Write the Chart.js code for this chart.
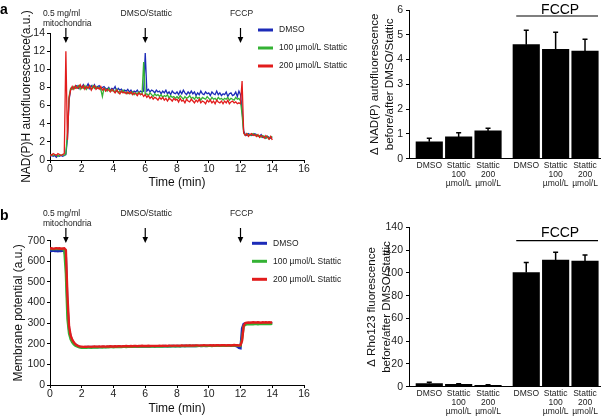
<!DOCTYPE html>
<html>
<head>
<meta charset="utf-8">
<script src="https://cdn.jsdelivr.net/npm/chart.js@4.4.0/dist/chart.umd.min.js"></script>
<style>
body{margin:0;background:#fff;}
#wrap{position:relative;width:605px;height:420px;overflow:hidden;background:#fff;}
canvas{position:absolute;}
</style>
</head>
<body>
<div id="wrap">
<canvas id="lineA" width="350" height="200" style="left:0;top:0"></canvas>
<canvas id="barA" width="265" height="200" style="left:340px;top:0"></canvas>
<canvas id="lineB" width="350" height="220" style="left:0;top:200px"></canvas>
<canvas id="barB" width="265" height="220" style="left:340px;top:200px"></canvas>
</div>
<script>
// time axis of the traces (min)
const times = [
  0,0.1,0.2,0.3,0.4,0.5,0.6,0.7,0.8,0.9,
  1,1.1,1.2,1.3,1.4,1.5,1.6,1.7,1.8,1.9,
  2,2.1,2.2,2.3,2.4,2.5,2.6,2.7,2.8,2.9,
  3,3.1,3.2,3.3,3.4,3.5,3.6,3.7,3.8,3.9,
  4,4.1,4.2,4.3,4.4,4.5,4.6,4.7,4.8,4.9,
  5,5.1,5.2,5.3,5.4,5.5,5.6,5.7,5.8,5.9,
  6,6.1,6.2,6.3,6.4,6.5,6.6,6.7,6.8,6.9,
  7,7.1,7.2,7.3,7.4,7.5,7.6,7.7,7.8,7.9,
  8,8.1,8.2,8.3,8.4,8.5,8.6,8.7,8.8,8.9,
  9,9.1,9.2,9.3,9.4,9.5,9.6,9.7,9.8,9.9,
  10,10.1,10.2,10.3,10.4,10.5,10.6,10.7,10.8,10.9,
  11,11.1,11.2,11.3,11.4,11.5,11.6,11.7,11.8,11.9,
  12,12.1,12.2,12.3,12.4,12.5,12.6,12.7,12.8,12.9,
  13,13.1,13.2,13.3,13.4,13.5,13.6,13.7,13.8,13.9,
  14
];

const seriesNames = ['DMSO', '100 µmol/L Stattic', '200 µmol/L Stattic'];

// NAD(P)H autofluorescence (a.u.)
const nadhDmso = [
  0.4,0.5,0.4,0.5,0.3,0.5,0.4,0.5,0.4,0.5,
  0.6,2.4,6.6,7.8,8.0,7.9,8.1,8.2,7.9,8.1,
  8.0,8.3,7.9,8.1,8.4,7.9,8.2,8.0,8.3,7.9,
  8.1,8.2,7.8,8.0,8.1,7.9,7.8,8.0,7.7,7.9,
  7.8,8.1,7.6,7.9,7.7,7.8,7.5,7.7,7.6,7.8,
  7.5,7.7,7.4,7.6,7.5,7.7,7.4,7.6,7.5,7.6,
  11.8,7.6,7.8,7.5,7.7,7.6,7.4,7.7,7.5,7.6,
  7.3,7.6,7.4,7.7,7.3,7.5,7.2,7.6,7.4,7.3,
  7.5,7.2,7.6,7.3,7.7,7.4,7.2,7.5,7.3,7.6,
  7.3,7.5,7.1,7.4,7.2,7.6,7.3,7.2,7.5,7.3,
  7.4,7.1,7.5,7.3,7.2,7.6,7.2,7.4,7.1,7.3,
  7.2,7.5,7.0,7.3,7.4,7.1,7.2,7.5,7.0,7.6,
  7.2,5.5,3.2,2.8,2.7,2.9,2.8,2.7,2.8,2.9,
  2.8,2.7,2.6,2.8,2.5,2.6,2.4,2.6,2.5,2.4,
  2.5
];
const nadhStattic100 = [
  0.5,0.6,0.5,0.6,0.5,0.4,0.6,0.5,0.6,0.5,
  0.7,3.0,7.0,7.9,7.8,8.1,7.9,8.0,8.2,7.8,
  8.1,7.9,8.2,7.8,8.1,8.0,7.8,8.2,7.9,8.1,
  7.9,8.0,7.8,7.0,7.9,7.8,7.6,7.9,7.7,7.6,
  7.7,7.5,7.8,7.4,7.6,7.5,7.7,7.4,7.5,7.3,
  7.4,7.3,7.5,7.2,7.4,7.3,7.5,7.2,7.3,10.8,
  7.2,7.3,7.1,7.4,7.2,7.0,7.3,7.1,7.2,7.0,
  7.2,6.9,7.1,7.0,7.2,6.8,7.1,6.9,7.0,6.8,
  7.0,6.8,7.1,6.9,6.7,7.0,6.8,6.9,7.1,6.8,
  6.9,6.7,7.0,6.8,6.9,6.6,6.9,6.8,6.7,7.0,
  6.8,6.6,6.9,6.7,6.8,6.6,6.9,6.7,6.8,6.6,
  6.8,6.7,6.9,6.6,6.8,6.7,6.6,6.9,6.7,6.8,
  6.5,5.0,3.0,2.7,2.9,2.8,2.7,2.8,2.9,2.7,
  2.8,2.6,2.7,2.5,2.7,2.6,2.4,2.6,2.3,2.5,
  2.6
];
const nadhStattic200 = [
  0.6,0.5,0.7,0.6,0.5,0.7,0.6,0.5,0.6,0.7,
  12.0,2.2,6.8,7.7,8.1,7.8,8.2,7.9,8.0,8.3,
  7.9,8.2,7.8,8.1,7.9,8.2,7.7,8.0,8.2,7.8,
  8.0,7.8,8.1,7.7,7.9,7.6,7.8,7.7,7.5,7.8,
  7.6,7.4,7.7,7.5,7.3,7.6,7.4,7.5,7.3,7.5,
  7.3,7.5,7.2,7.4,7.3,7.1,7.4,7.2,7.3,7.0,
  7.2,6.9,7.1,6.8,7.0,6.7,6.9,6.8,6.6,6.9,
  6.7,6.9,6.6,6.8,6.5,6.8,6.7,6.5,6.8,6.6,
  6.7,6.4,6.8,6.5,6.6,6.3,6.7,6.5,6.4,6.7,
  6.5,6.3,6.6,6.4,6.7,6.3,6.5,6.4,6.2,6.6,
  6.4,6.6,6.3,6.5,6.2,6.6,6.4,6.3,6.5,6.2,
  6.5,6.3,6.6,6.2,6.4,6.5,6.3,6.4,6.2,6.3,
  6.2,8.7,3.0,2.7,2.9,2.6,2.8,2.9,2.7,2.8,
  2.6,2.8,2.5,2.7,2.6,2.4,2.7,2.5,2.3,2.6,
  2.2
];

// Membrane potential (a.u.)
const rhoDmso = [
  651,650,652,650,651,649,651,650,652,650,
  620,380,270,235,215,203,196,191,187,185,
  184,183,183,184,184,183,184,184,185,184,
  184,185,184,185,185,184,185,185,186,185,
  185,186,185,186,186,185,186,186,187,186,
  186,187,186,187,187,186,187,187,188,187,
  187,187,188,187,188,188,187,188,188,188,
  188,188,189,188,188,189,188,189,189,188,
  189,189,188,189,189,190,189,189,190,189,
  189,190,189,190,190,189,190,190,189,190,
  190,190,191,190,190,191,190,191,190,191,
  191,190,191,191,190,191,191,190,186,180,
  178,275,296,299,300,300,301,300,300,301,
  300,301,300,300,301,300,301,300,300,301,
  300
];
const rhoStattic100 = [
  659,660,658,660,659,661,659,660,658,655,
  540,320,250,222,207,197,191,187,184,182,
  181,181,182,181,182,182,181,182,182,183,
  182,183,183,182,183,183,184,183,184,184,
  183,184,184,185,184,184,185,185,184,185,
  185,185,186,185,186,186,185,186,186,187,
  186,186,187,187,186,187,187,188,187,187,
  188,187,188,188,187,188,188,189,188,188,
  188,189,188,189,189,188,189,189,190,189,
  189,189,190,189,190,190,189,190,190,189,
  190,190,189,190,190,191,190,190,191,190,
  190,191,190,191,191,190,191,191,190,191,
  190,225,285,292,294,295,295,296,295,296,
  296,295,296,296,297,296,296,297,296,296,
  297
];
const rhoStattic200 = [
  662,663,661,662,664,662,663,661,662,663,
  655,430,285,240,220,207,198,193,189,187,
  186,185,186,185,186,186,185,186,187,186,
  186,187,186,187,187,186,187,187,188,187,
  187,188,187,188,188,187,188,188,189,188,
  188,189,188,189,189,188,189,189,190,189,
  189,189,190,189,190,190,189,190,190,191,
  190,191,190,191,190,191,191,190,191,191,
  191,190,191,192,191,191,192,191,192,191,
  192,191,192,192,191,192,192,193,192,192,
  192,193,192,193,192,193,193,192,193,193,
  193,192,193,193,192,193,194,193,193,192,
  193,215,288,300,302,303,302,303,304,303,
  303,304,303,302,304,303,304,303,304,303,
  304
];

// additions marked on the traces
const eventTimes = [1, 6, 12];
const eventLabels = [['0.5 mg/ml', 'mitochondria'], ['DMSO/Stattic'], ['FCCP']];

// bar panels
const barSlots = [1, 2, 3, 4.3, 5.3, 6.3];
const barLabels = [['DMSO'], ['Stattic', '100', 'µmol/L'], ['Stattic', '200', 'µmol/L'],
                   ['DMSO'], ['Stattic', '100', 'µmol/L'], ['Stattic', '200', 'µmol/L']];
const nadhMeans = [0.68, 0.88, 1.12, 4.60, 4.41, 4.34];
const nadhErrors = [0.15, 0.17, 0.11, 0.58, 0.69, 0.48];
const rhoMeans = [2.8, 2.0, 1.2, 100.2, 111.3, 110.4];
const rhoErrors = [1.0, 0.7, 0.5, 8.8, 6.7, 5.3];

const FONT = '"Liberation Sans", Arial, Helvetica, sans-serif';
const BLUE = '#1c2bb8', GREEN = '#34b234', RED = '#e21c1c';

Chart.defaults.font.family = FONT;
Chart.defaults.color = '#222';

// arrows, panel letter and legend on the trace panels
const eventMarks = {
    id: 'eventMarks',
    afterDraw(chart, args, opts){
        const ctx = chart.ctx;
        const x = chart.scales.x;
        ctx.save();
        ctx.fillStyle = '#000';
        ctx.textBaseline = 'middle';
        ctx.textAlign = 'left';
        ctx.font = 'bold 14px ' + FONT;
        ctx.fillText(opts.letter, 0, opts.letterY);

        ctx.font = '8.5px ' + FONT;
        ctx.fillStyle = '#222';
        for(let i = 0; i < eventTimes.length; i++){
            let px = x.getPixelForValue(eventTimes[i]);
            let lines = eventLabels[i];
            if(lines.length > 1){
                ctx.textAlign = 'left';
                for(let j = 0; j < lines.length; j++){
                    ctx.fillText(lines[j], px - 23, 14 + 10 * j);
                }
            } else {
                ctx.textAlign = 'center';
                ctx.fillText(lines[0], px + 1, 14);
            }
            ctx.strokeStyle = '#000';
            ctx.fillStyle = '#000';
            ctx.lineWidth = 1.2;
            ctx.beginPath();
            ctx.moveTo(px, 28);
            ctx.lineTo(px, 39);
            ctx.stroke();
            ctx.beginPath();
            ctx.moveTo(px - 2.8, 37);
            ctx.lineTo(px + 2.8, 37);
            ctx.lineTo(px, 43);
            ctx.closePath();
            ctx.fill();
            ctx.fillStyle = '#222';
        }

        // legend
        chart.data.datasets.forEach((ds, i) => {
            let y = opts.legendY + i * 18;
            ctx.strokeStyle = ds.borderColor;
            ctx.lineWidth = 3;
            ctx.beginPath();
            ctx.moveTo(opts.legendX, y);
            ctx.lineTo(opts.legendX + 15, y);
            ctx.stroke();
            ctx.fillStyle = '#222';
            ctx.textAlign = 'left';
            ctx.fillText(ds.label, opts.legendX + 21, y);
        });
        ctx.restore();
    }
};

// error bars and the FCCP bracket on the bar panels
function makeBarExtras(errors, lineOffset, textOffset){
    return {
        id: 'barExtras',
        afterDatasetsDraw(chart){
            const ctx = chart.ctx;
            const y = chart.scales.y;
            const x = chart.scales.x;
            const meta = chart.getDatasetMeta(0);
            const values = chart.data.datasets[0].data;
            ctx.save();
            ctx.strokeStyle = '#000';
            ctx.lineWidth = 1.5;
            meta.data.forEach((bar, i) => {
                let top = y.getPixelForValue(values[i] + errors[i]);
                ctx.beginPath();
                ctx.moveTo(bar.x, bar.y);
                ctx.lineTo(bar.x, top);
                ctx.moveTo(bar.x - 2.5, top);
                ctx.lineTo(bar.x + 2.5, top);
                ctx.stroke();
            });

            let ca = chart.chartArea;
            let x1 = x.getPixelForValue(barSlots[3]) - 10;
            let x2 = x.getPixelForValue(barSlots[5]) + 13;
            ctx.lineWidth = 1.2;
            ctx.beginPath();
            ctx.moveTo(x1, ca.top + lineOffset);
            ctx.lineTo(x2, ca.top + lineOffset);
            ctx.stroke();
            ctx.font = '14px ' + FONT;
            ctx.fillStyle = '#000';
            ctx.textAlign = 'center';
            ctx.textBaseline = 'middle';
            ctx.fillText('FCCP', (x1 + x2) / 2 + 3, ca.top + textOffset);
            ctx.restore();
        }
    };
}

function traceChart(id, values, yMax, yStep, yTitle, opts){
    return new Chart(document.getElementById(id), {
        type: 'line',
        data: {
            labels: times,
            datasets: [
                {label: seriesNames[0], data: values[0], borderColor: BLUE, order: 3},
                {label: seriesNames[1], data: values[1], borderColor: GREEN, order: 2},
                {label: seriesNames[2], data: values[2], borderColor: RED, order: 1}
            ]
        },
        options: {
            responsive: false,
            animation: false,
            elements: {
                point: {radius: 0},
                line: {borderWidth: opts.lineWidth, tension: 0}
            },
            layout: {padding: {top: opts.top, right: 46, left: 0, bottom: 0}},
            plugins: {
                legend: {display: false},
                tooltip: {enabled: false},
                eventMarks: {letter: opts.letter, letterY: opts.letterY, legendX: opts.legendX, legendY: opts.legendY}
            },
            scales: {
                x: {
                    type: 'linear', min: 0, max: 16,
                    ticks: {stepSize: 2, padding: 1, font: {size: 10.5, lineHeight: 1}},
                    grid: {drawOnChartArea: false, tickLength: 3, color: '#000'},
                    border: {color: '#000'},
                    title: {display: true, text: 'Time (min)', color: '#111', font: {size: 12}, padding: {top: 0, bottom: opts.xTitlePad}},
                    afterFit: s => { s.height = opts.xAxisH; }
                },
                y: {
                    min: 0, max: yMax,
                    ticks: {stepSize: yStep, padding: 2, font: {size: 10.5}},
                    grid: {drawOnChartArea: false, tickLength: 3, color: '#000'},
                    border: {color: '#000'},
                    title: {display: true, text: yTitle, color: '#111', font: {size: 12}, padding: {top: opts.yTitlePad, bottom: 0}},
                    afterFit: s => { s.width = 50; }
                }
            }
        },
        plugins: [eventMarks]
    });
}

function barChart(id, means, errors, yMax, yStep, yTitle, opts){
    return new Chart(document.getElementById(id), {
        type: 'bar',
        data: {
            labels: barSlots,
            datasets: [{data: means, backgroundColor: '#000', barThickness: 26.5}]
        },
        options: {
            responsive: false,
            animation: false,
            layout: {padding: {top: opts.top, right: 5, left: 0, bottom: 0}},
            plugins: {legend: {display: false}, tooltip: {enabled: false}},
            scales: {
                x: {
                    type: 'linear', min: 0.31, max: 6.81, offset: false,
                    afterBuildTicks: s => { s.ticks = barSlots.map(v => ({value: v})); },
                    ticks: {autoSkip: false, maxRotation: 0, padding: 2, font: {size: 8.5, lineHeight: 1.1},
                            callback: (v, i) => barLabels[i]},
                    grid: {display: true, drawOnChartArea: false, drawTicks: false, offset: false},
                    border: {color: '#000'},
                    afterFit: s => { s.height = opts.xAxisH; }
                },
                y: {
                    min: 0, max: yMax,
                    ticks: {stepSize: yStep, padding: 3, font: {size: 10.5}},
                    grid: {drawOnChartArea: false, tickLength: 3, color: '#000'},
                    border: {color: '#000'},
                    title: {display: true, text: yTitle, color: '#111', font: {size: 11.5, lineHeight: 1.3}, padding: {top: opts.yTitlePad, bottom: 0}},
                    afterFit: s => { s.width = 69; }
                }
            }
        },
        plugins: [makeBarExtras(errors, opts.lineOffset, opts.textOffset)]
    });
}

traceChart('lineA', [nadhDmso, nadhStattic100, nadhStattic200], 14, 2, 'NAD(P)H autofluorescence(a.u.)',
    {lineWidth: 1.3, top: 33, xAxisH: 40, xTitlePad: 10, yTitlePad: 19.5, letter: 'a', letterY: 10, legendX: 258, legendY: 30});

traceChart('lineB', [rhoDmso, rhoStattic100, rhoStattic200], 700, 100, 'Membrane potential (a.u.)',
    {lineWidth: 2.4, top: 40.7, xAxisH: 35, xTitlePad: 4, yTitlePad: 11, letter: 'b', letterY: 16, legendX: 252, legendY: 43.3});

barChart('barA', nadhMeans, nadhErrors, 6, 1, ['Δ NAD(P) autofluorescence', 'before/after DMSO/Stattic'],
    {top: 10, xAxisH: 41.3, yTitlePad: 27.5, lineOffset: 6, textOffset: 0});

barChart('barB', rhoMeans, rhoErrors, 140, 20, ['Δ Rho123 fluorescence', 'before/after DMSO/Stattic'],
    {top: 27.3, xAxisH: 33.3, yTitlePad: 24.5, lineOffset: 13.4, textOffset: 6});
</script>
</body>
</html>
